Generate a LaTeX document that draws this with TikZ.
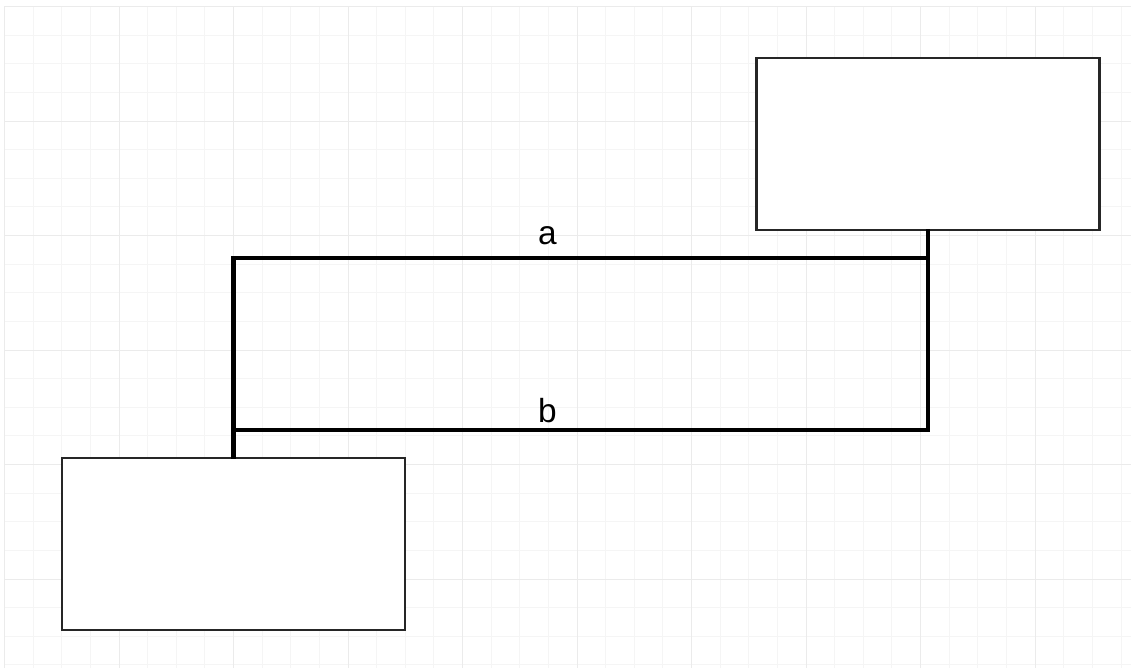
\documentclass[tikz,border=0pt]{standalone}
\usepackage{fontspec}
\setmainfont{Liberation Sans}
\usepackage{tikz}
\usetikzlibrary{positioning, calc}

\begin{document}
\begin{tikzpicture}[
  x=0.02cm, y=0.02cm,
  minorline/.style={draw=black!4, line width=0.45pt},
  majorline/.style={draw=black!8, line width=0.55pt},
  box/.style={rectangle, draw=black!85, fill=white, line width=1.3pt,
              minimum width=6.86cm, minimum height=3.44cm, inner sep=0pt},
  wire/.style={line width=2.5pt, line cap=rect},
  tag/.style={font=\fontsize{19}{22}\selectfont, inner sep=0pt, anchor=base},
]

% Page and background grid
\useasboundingbox (0,0) rectangle (1131,668);
\fill[white] (0,0) rectangle (1131,668);
\foreach \k in {0,...,39} {
  \pgfmathsetmacro\gx{4.5+28.625*\k}
  \draw[minorline] (\gx,0) -- (\gx,661.5);
}
\foreach \k in {0,...,23} {
  \pgfmathsetmacro\gy{661.5-28.625*\k}
  \draw[minorline] (4.5,\gy) -- (1131,\gy);
}
\foreach \k in {0,4,...,36} {
  \pgfmathsetmacro\gx{4.5+28.625*\k}
  \draw[majorline] (\gx,0) -- (\gx,661.5);
}
\foreach \k in {0,4,...,20} {
  \pgfmathsetmacro\gy{661.5-28.625*\k}
  \draw[majorline] (4.5,\gy) -- (1131,\gy);
}

% Boxes
\node[box] at (928, 524)   (upper) {};
\node[box] at (233.5, 124) (lower) {};

% Turning levels of the two connectors
\coordinate (alevel) at (0, 410);
\coordinate (blevel) at (0, 238);

% Connector a
\draw[wire] (lower.north) -- (lower.north |- alevel)
  -- node[tag, pos=0.452, yshift=7.5pt] (la) {a} (alevel -| upper.south)
  -- (upper.south);

% Connector b
\draw[wire] (upper.south) -- (upper.south |- blevel)
  -- node[tag, pos=0.548, yshift=4pt] (lb) {b} (blevel -| lower.north)
  -- (lower.north);
\end{tikzpicture}
\end{document}
